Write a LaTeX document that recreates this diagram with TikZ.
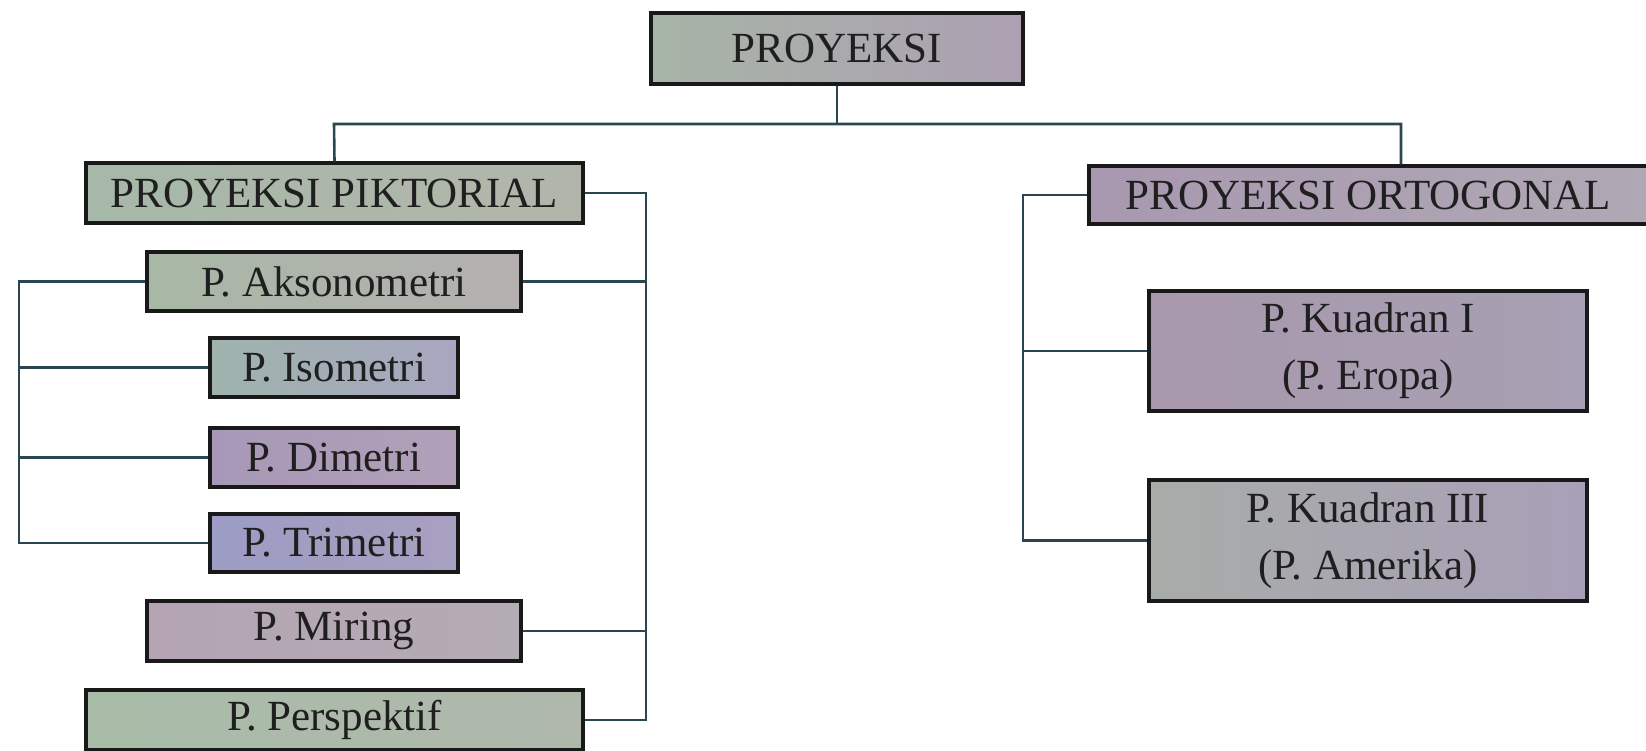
\documentclass[tikz,border=0pt]{standalone}
\usepackage{fontspec}
\setmainfont{Liberation Serif}
\definecolor{linecol}{HTML}{2A4650}
\begin{document}
\begin{tikzpicture}[x=1pt,y=-1pt,
  box/.style={draw=black!90, line width=3.4pt, inner sep=0pt, align=center,
    font=\fontsize{43}{57}\selectfont, text=black!88},
  conn/.style={draw=linecol, line width=2.6pt}]
\useasboundingbox (0,0) rectangle (1646,750);
% nodes
\node[box, minimum width=372pt, minimum height=71pt, left color={rgb,255:red,167;green,181;blue,166}, right color={rgb,255:red,172;green,160;blue,178}] (root) at (837,48.5) {PROYEKSI};
\node[box, minimum width=497pt, minimum height=60pt, left color={rgb,255:red,166;green,184;blue,168}, right color={rgb,255:red,178;green,182;blue,170}] (pik) at (334.5,193) {PROYEKSI PIKTORIAL};
\node[box, minimum width=374pt, minimum height=59pt, left color={rgb,255:red,168;green,184;blue,166}, right color={rgb,255:red,180;green,176;blue,176}] (akso) at (334,281.5) {P. Aksonometri};
\node[box, minimum width=248pt, minimum height=59pt, left color={rgb,255:red,159;green,179;blue,172}, right color={rgb,255:red,168;green,166;blue,192}] (iso) at (334,367.5) {P. Isometri};
\node[box, minimum width=248pt, minimum height=59pt, left color={rgb,255:red,168;green,152;blue,184}, right color={rgb,255:red,176;green,160;blue,184}] (dim) at (334,457.5) {P. Dimetri};
\node[box, minimum width=248pt, minimum height=58pt, left color={rgb,255:red,156;green,156;blue,196}, right color={rgb,255:red,168;green,160;blue,192}] (tri) at (334,543) {P. Trimetri};
\node[box, minimum width=374pt, minimum height=60pt, left color={rgb,255:red,180;green,164;blue,180}, right color={rgb,255:red,180;green,172;blue,180}] (mir) at (334,631) {P. Miring};
\node[box, minimum width=497pt, minimum height=60pt, left color={rgb,255:red,168;green,188;blue,168}, right color={rgb,255:red,176;green,184;blue,172}] (per) at (334.5,720) {P. Perspektif};
\node[box, minimum width=559pt, minimum height=58pt, left color={rgb,255:red,168;green,152;blue,176}, right color={rgb,255:red,176;green,168;blue,180}] (ort) at (1368.5,195) {PROYEKSI ORTOGONAL};
\node[box, minimum width=438pt, minimum height=120pt, left color={rgb,255:red,168;green,152;blue,172}, right color={rgb,255:red,168;green,160;blue,180}] (k1) at (1368,351) {P. Kuadran I\\(P. Eropa)};
\node[box, minimum width=438pt, minimum height=121pt, left color={rgb,255:red,168;green,172;blue,168}, right color={rgb,255:red,168;green,160;blue,184}] (k3) at (1368,540.5) {P. Kuadran III\\(P. Amerika)};
% bus coordinates
\coordinate (busL) at (334,124);
\coordinate (busR) at (1401,124);
\coordinate (rb) at (646,0);
\coordinate (lb) at (19,0);
\coordinate (ob) at (1023,0);
% connectors
\draw[conn] (root.south) -- (root.south |- busL);
\draw[conn] (pik.north) -- (busL) -- (busR) -- (busR |- ort.north);
\draw[conn] (pik.east) -- (pik.east -| rb) -- (per.east -| rb) -- (per.east);
\draw[conn] (akso.east) -- (akso.east -| rb);
\draw[conn] (mir.east) -- (mir.east -| rb);
\draw[conn] (akso.west) -- (akso.west -| lb) -- (tri.west -| lb) -- (tri.west);
\draw[conn] (iso.west -| lb) -- (iso.west);
\draw[conn] (dim.west -| lb) -- (dim.west);
\draw[conn] (ort.west) -- (ort.west -| ob) -- (k3.west -| ob) -- (k3.west);
\draw[conn] (k1.west -| ob) -- (k1.west);
\end{tikzpicture}
\end{document}
